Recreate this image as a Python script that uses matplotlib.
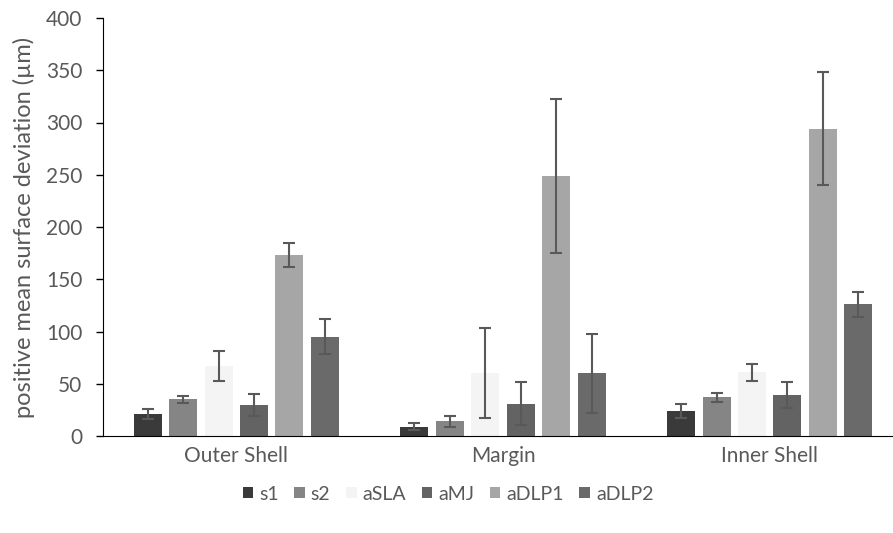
import numpy as np
import matplotlib
matplotlib.use('Agg')
import matplotlib.pyplot as plt

plt.rcParams['font.family'] = ['Lato', 'DejaVu Sans']

categories = ['Outer Shell', 'Margin', 'Inner Shell']
series = ['s1', 's2', 'aSLA', 'aMJ', 'aDLP1', 'aDLP2']
colors = ['#3a3a3a', '#858585', '#f4f4f4', '#636363', '#a6a6a6', '#6a6a6a']

# values per series, one entry per category
means = [
    [21, 9, 24],
    [35, 14, 37],
    [67, 60, 61],
    [30, 31, 39],
    [173, 249, 294],
    [95, 60, 126],
]
errs = [
    [4.5, 3, 6.5],
    [3.5, 5.5, 4],
    [14, 43, 8],
    [10.5, 20.5, 12.5],
    [11.5, 73.5, 54],
    [17, 38, 12],
]

fig = plt.figure(figsize=(8.93, 5.33), dpi=100)
ax = fig.add_axes([103 / 893, 97 / 533, 800 / 893, 418 / 533])

x = np.arange(len(categories))
w = 0.105
pitch = 0.1328
for i, s in enumerate(series):
    pos = x + (i - 2.5) * pitch
    ax.bar(pos, means[i], w, color=colors[i], label=s, zorder=2)
    ax.errorbar(pos, means[i], yerr=errs[i], fmt='none', ecolor='#595959',
                elinewidth=1.5, capsize=4.5, capthick=1.5, zorder=3)

ax.set_xlim(-0.5, 2.5)
ax.set_ylim(0, 400)
ax.set_yticks(range(0, 401, 50))
ax.set_xticks(x)
ax.set_xticklabels(categories)
ax.tick_params(axis='x', length=0, pad=7, labelsize=15, labelcolor='#595959')
ax.tick_params(axis='y', length=5, width=1, direction='out', labelsize=15,
               labelcolor='#595959', pad=10)
ax.spines['top'].set_visible(False)
ax.spines['right'].set_visible(False)
ax.spines['left'].set_color('#000000')
ax.spines['bottom'].set_color('#000000')
ax.set_ylabel('positive mean surface deviation (µm)', fontsize=17,
              color='#595959', labelpad=8)

fig.legend(loc='center', bbox_to_anchor=(448 / 893, 1 - 494 / 533), ncol=6,
           frameon=False, fontsize=14, handlelength=0.55, handleheight=0.55,
           handletextpad=0.3, columnspacing=0.8, labelcolor='#595959')

fig.savefig('out.png', dpi=100)
